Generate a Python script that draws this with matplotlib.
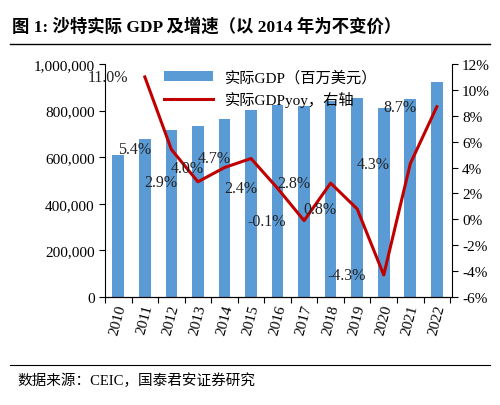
import matplotlib
matplotlib.use("Agg")
import matplotlib.pyplot as plt
import numpy as np

years = [str(y) for y in range(2010, 2023)]
gdp = [610000, 678000, 716000, 736000, 766000, 802000, 822000, 819000, 842000, 852000, 813000, 849000, 921000]
yoy_years = years[1:]
yoy = [11.0, 5.4, 2.9, 4.0, 4.7, 2.4, -0.1, 2.8, 0.8, -4.3, 4.3, 8.7]

F = ['Liberation Serif', 'Noto Sans CJK SC', 'DejaVu Sans']
plt.rcParams['font.family'] = F

fig = plt.figure(figsize=(5.0, 4.06), dpi=100)
ax = fig.add_axes([105/500, 1-298/406, (451.7-105)/500, (298-65)/406])
x = np.arange(len(years))
ax.bar(x, gdp, width=0.44, color='#5B9BD5', label='实际GDP（百万美元）', zorder=2)
ax.set_ylim(0, 1000000)
ax.set_yticks(np.arange(0, 1000001, 200000))
ax.set_yticklabels([f'{v:,}' for v in range(0, 1000001, 200000)], fontsize=11)
ax.set_xlim(-0.48, 12.56)
ax.set_xticks(np.arange(-0.5, 13, 1), minor=False)
ax.set_xticklabels([])
ax.set_xticks(x, minor=True)
ax.set_xticklabels(years, minor=True, rotation=75, fontsize=11)
ax.tick_params(axis='x', which='minor', length=0, pad=4)
ax.tick_params(axis='x', which='major', length=4, direction='out')
ax.tick_params(axis='y', direction='out', length=4)
for s in ['top', 'right']:
    ax.spines[s].set_visible(False)

ax2 = ax.twinx()
xi = np.arange(1, len(years))
ax2.plot(xi, yoy, color='#C00000', lw=2.2, label='实际GDPyoy，右轴', zorder=3)
ax2.set_ylim(-6, 12)
ax2.set_yticks(np.arange(-6, 13, 2))
ax2.set_yticklabels([f'{v}%' for v in range(-6, 13, 2)], fontsize=11)
ax2.tick_params(axis='y', direction='out', length=4)
ax2.spines['top'].set_visible(False)
ax2.spines['left'].set_visible(False)
for xv, v in zip(xi, yoy):
    ax2.text(xv - 1.4, v, f'{v:.1f}%', ha='center', va='center', fontsize=11.5, color='#222222', zorder=4)

h1, l1 = ax.get_legend_handles_labels()
h2, l2 = ax2.get_legend_handles_labels()
ax2.legend(h1 + h2, l1 + l2, loc='upper left', bbox_to_anchor=(0.13, 1.035), frameon=False,
           fontsize=11, handlelength=3.2, labelspacing=0.45)

fig.text(0.025, 1-27/406, '图 1: 沙特实际 GDP 及增速（以 2014 年为不变价）', fontsize=12.5,
         fontweight='bold', va='center', ha='left')
fig.add_artist(plt.Line2D([0.02, 0.98], [1-45/406]*2, color='black', lw=1))
fig.add_artist(plt.Line2D([0.02, 0.98], [1-366/406]*2, color='black', lw=0.8))
fig.text(0.035, 1-381/406, '数据来源：CEIC，国泰君安证券研究', fontsize=10.5, va='center', ha='left')

fig.savefig('out.png', dpi=100)
